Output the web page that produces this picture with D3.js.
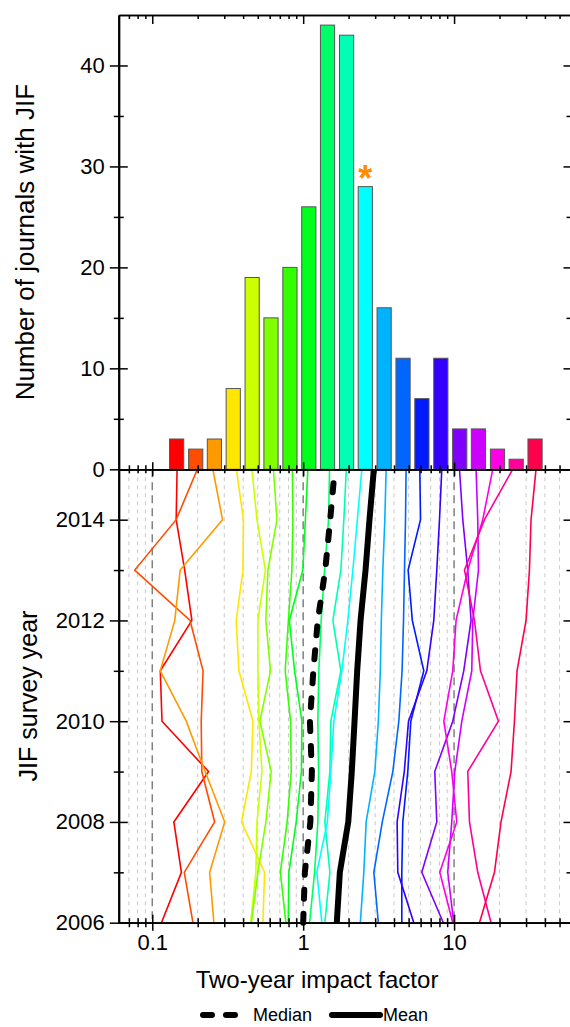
<!DOCTYPE html>
<html>
<head>
<meta charset="utf-8">
<script src="https://cdn.jsdelivr.net/npm/d3@7"></script>
<style>
body { margin: 0; background: #fff; }
svg { display: block; font-family: Arial, "Liberation Sans", sans-serif; }
</style>
</head>
<body>
<svg id="chart" width="570" height="1027"></svg>
<script>
// histogram: bin centres (JIF) and number of journals per bin
const binCenters = [0.145, 0.194, 0.258, 0.344, 0.459, 0.612, 0.817, 1.09, 1.45, 1.94,
                    2.58, 3.44, 4.59, 6.12, 8.17, 10.9, 14.5, 19.4, 25.8, 34.4];
const journalCounts = [3, 2, 3, 8, 19, 15, 20, 26, 44, 43, 28, 16, 11, 7, 11, 4, 4, 2, 1, 3];

// survey years and the JIF of one journal per bin over the years (2006 -> 2015)
const surveyYears = [2006, 2007, 2008, 2009, 2010, 2011, 2012, 2013, 2014, 2015];
const binTrends = [
    [0.115, 0.156, 0.139, 0.236, 0.116, 0.113, 0.183, 0.164, 0.144, 0.146],
    [0.186, 0.163, 0.259, 0.213, 0.211, 0.217, 0.178, 0.0765, 0.144, 0.199],
    [0.256, 0.240, 0.302, 0.224, 0.168, 0.113, 0.141, 0.153, 0.292, 0.252],
    [0.541, 0.555, 0.390, 0.453, 0.465, 0.375, 0.360, 0.399, 0.402, 0.361],
    [0.449, 0.486, 0.494, 0.533, 0.509, 0.501, 0.501, 0.562, 0.494, 0.457],
    [0.454, 0.501, 0.566, 0.614, 0.517, 0.607, 0.566, 0.584, 0.670, 0.635],
    [0.768, 0.706, 0.783, 0.833, 0.825, 0.760, 0.798, 0.842, 0.855, 0.848],
    [0.796, 0.804, 0.899, 0.973, 0.980, 0.877, 0.810, 0.995, 1.034, 1.074],
    [1.103, 1.190, 1.251, 1.265, 1.251, 1.270, 1.316, 1.386, 1.473, 1.496],
    [1.392, 1.503, 1.392, 1.503, 1.525, 1.777, 1.573, 1.777, 1.860, 1.932],
    [1.330, 1.232, 1.446, 1.525, 1.597, 1.804, 1.977, 2.134, 2.286, 2.447],
    [2.392, 2.523, 2.614, 2.985, 3.148, 3.246, 3.295, 3.372, 3.476, 3.546],
    [3.148, 2.940, 3.345, 3.927, 4.303, 4.524, 4.623, 4.693, 4.766, 4.809],
    [4.504, 4.504, 4.573, 4.935, 5.167, 6.300, 5.287, 4.959, 5.991, 5.927],
    [5.408, 4.237, 4.194, 4.678, 4.989, 6.596, 7.337, 7.681, 8.005, 8.290],
    [8.483, 6.110, 7.681, 7.447, 9.80, 11.59, 12.96, 12.32, 11.42, 10.86],
    [9.95, 9.08, 9.65, 10.11, 11.25, 13.10, 13.30, 14.51, 14.35, 13.99],
    [9.80, 8.04, 10.42, 9.65, 8.55, 9.80, 10.31, 12.32, 15.49, 18.04],
    [17.58, 14.35, 12.65, 12.32, 19.68, 14.96, 13.65, 11.72, 15.90, 24.47],
    [14.73, 18.52, 20.47, 23.85, 25.12, 26.14, 29.99, 31.58, 32.36, 34.91]
];
const medianJIF = [1.00, 1.026, 1.116, 1.142, 1.108, 1.168, 1.25, 1.40, 1.51, 1.62];
const meanJIF = [1.67, 1.75, 1.99, 2.10, 2.19, 2.28, 2.40, 2.59, 2.75, 2.94];

// ticks
const majorIF = [0.1, 1, 10];
const minorIF = [0.07, 0.08, 0.09, 0.2, 0.3, 0.4, 0.5, 0.6, 0.7, 0.8, 0.9,
                 2, 3, 4, 5, 6, 7, 8, 9, 20, 30, 40, 50];
const countTicks = [0, 10, 20, 30, 40];
const countMinor = [5, 15, 25, 35];
const yearTicks = [2006, 2008, 2010, 2012, 2014];
const yearMinor = [2007, 2009, 2011, 2013];

const plot = {left: 118.8, right: 571.5, top: 15, mid: 469.3, bottom: 922.7};
const barHalf = 0.047;   // half bar width in decades

const svg = d3.select('#chart');

const x = d3.scaleLog().domain([0.06, 60]).range([plot.left, plot.right]);
const yCount = d3.scaleLinear().domain([0, 45]).range([plot.mid, plot.top]);
const yYear = d3.scaleLinear().domain([2006, 2015]).range([plot.bottom, plot.mid]);

const binColor = i => d3.hsl(i * 18, 1, 0.5).formatHex();

//GRIDLINES (bottom panel only)
svg.append('g')
    .selectAll('line')
    .data(minorIF)
    .join('line')
    .attr('x1', d => x(d)).attr('x2', d => x(d))
    .attr('y1', yYear(2015)).attr('y2', yYear(2006))
    .attr('stroke', '#c8c8c8')
    .attr('stroke-width', 1)
    .attr('stroke-dasharray', '4,4');

svg.append('g')
    .selectAll('line')
    .data(majorIF)
    .join('line')
    .attr('x1', d => x(d)).attr('x2', d => x(d))
    .attr('y1', yYear(2015)).attr('y2', yYear(2006))
    .attr('stroke', '#808080')
    .attr('stroke-width', 1.5)
    .attr('stroke-dasharray', '8,5');

//BARS
svg.append('g')
    .selectAll('rect')
    .data(journalCounts)
    .join('rect')
    .attr('x', (d, i) => x(binCenters[i] * Math.pow(10, -barHalf)))
    .attr('width', (d, i) => x(binCenters[i] * Math.pow(10, barHalf)) - x(binCenters[i] * Math.pow(10, -barHalf)))
    .attr('y', d => yCount(d))
    .attr('height', d => yCount(0) - yCount(d))
    .attr('fill', (d, i) => binColor(i))
    .attr('stroke', '#555')
    .attr('stroke-width', 1);

// asterisk over the 2.5 bin
svg.append('text')
    .attr('x', x(binCenters[10]))
    .attr('y', yCount(journalCounts[10]) + 4)
    .attr('text-anchor', 'middle')
    .attr('font-size', 36)
    .attr('font-weight', 'bold')
    .attr('fill', '#ff8c00')
    .text('*');

//TREND LINES
const line = d3.line()
    .x(d => x(d[1]))
    .y(d => yYear(d[0]));

svg.append('g')
    .selectAll('path')
    .data(binTrends)
    .join('path')
    .attr('d', d => line(d.map((v, j) => [surveyYears[j], v])))
    .attr('fill', 'none')
    .attr('stroke', (d, i) => binColor(i))
    .attr('stroke-width', 1.6);

svg.append('path')
    .attr('d', line(meanJIF.map((v, j) => [surveyYears[j], v])))
    .attr('fill', 'none')
    .attr('stroke', 'black')
    .attr('stroke-width', 6);

svg.append('path')
    .attr('d', line(medianJIF.map((v, j) => [surveyYears[j], v])))
    .attr('fill', 'none')
    .attr('stroke', 'black')
    .attr('stroke-width', 6)
    .attr('stroke-linecap', 'round')
    .attr('stroke-dasharray', '9,15');

//AXES
function addAxis(axis, tx, ty, labels) {
    const g = svg.append('g')
        .attr('transform', `translate(${tx},${ty})`)
        .call(axis.tickSizeOuter(0));
    g.selectAll('path, line').attr('stroke', 'black').attr('stroke-width', 1.5);
    g.select('.domain').attr('stroke-width', 1.6);
    if (labels) {
        g.selectAll('text').attr('font-size', 22).attr('fill', 'black')
            .attr('font-family', 'Arial, "Liberation Sans", sans-serif');
    } else {
        g.selectAll('text').remove();
    }
    return g;
}

// left: counts (cross ticks)
addAxis(d3.axisLeft(yCount).tickValues(countTicks).tickSize(9).tickPadding(5), plot.left, 0, true);
addAxis(d3.axisRight(yCount).tickValues(countTicks).tickSize(9), plot.left, 0, false);
addAxis(d3.axisLeft(yCount).tickValues(countMinor).tickSize(5), plot.left, 0, false);
addAxis(d3.axisRight(yCount).tickValues(countMinor).tickSize(5), plot.left, 0, false);
// left: years (cross ticks)
addAxis(d3.axisLeft(yYear).tickValues(yearTicks).tickSize(9).tickPadding(5).tickFormat(d3.format('d')), plot.left, 0, true);
addAxis(d3.axisRight(yYear).tickValues(yearTicks).tickSize(9), plot.left, 0, false);
addAxis(d3.axisLeft(yYear).tickValues(yearMinor).tickSize(5), plot.left, 0, false);
addAxis(d3.axisRight(yYear).tickValues(yearMinor).tickSize(5), plot.left, 0, false);
// right: inward ticks
addAxis(d3.axisLeft(yCount).tickValues(countTicks).tickSize(8), plot.right, 0, false);
addAxis(d3.axisLeft(yCount).tickValues(countMinor).tickSize(5), plot.right, 0, false);
addAxis(d3.axisLeft(yYear).tickValues(yearTicks).tickSize(8), plot.right, 0, false);
addAxis(d3.axisLeft(yYear).tickValues(yearMinor).tickSize(5), plot.right, 0, false);

// top: inward ticks
addAxis(d3.axisBottom(x).tickValues(majorIF).tickSize(9), 0, plot.top, false);
addAxis(d3.axisBottom(x).tickValues(minorIF).tickSize(4), 0, plot.top, false);
// middle: cross ticks
addAxis(d3.axisBottom(x).tickValues(majorIF).tickSize(7), 0, plot.mid, false);
addAxis(d3.axisTop(x).tickValues(majorIF).tickSize(7), 0, plot.mid, false);
addAxis(d3.axisBottom(x).tickValues(minorIF).tickSize(4), 0, plot.mid, false);
addAxis(d3.axisTop(x).tickValues(minorIF).tickSize(4), 0, plot.mid, false);
// bottom: cross ticks + labels
addAxis(d3.axisBottom(x).tickValues(majorIF).tickSize(8).tickPadding(4).tickFormat(d => String(d)), 0, plot.bottom, true);
addAxis(d3.axisTop(x).tickValues(majorIF).tickSize(8), 0, plot.bottom, false);
addAxis(d3.axisBottom(x).tickValues(minorIF).tickSize(4.5), 0, plot.bottom, false);
addAxis(d3.axisTop(x).tickValues(minorIF).tickSize(4.5), 0, plot.bottom, false);

//TITLES
svg.append('text')
    .attr('transform', `translate(34,${(yCount(0) + yCount(45)) / 2}) rotate(-90)`)
    .attr('text-anchor', 'middle')
    .attr('font-size', 26)
    .text('Number of journals with JIF');

svg.append('text')
    .attr('transform', `translate(37,${(yYear(2006) + yYear(2015)) / 2}) rotate(-90)`)
    .attr('text-anchor', 'middle')
    .attr('font-size', 25)
    .text('JIF survey year');

svg.append('text')
    .attr('x', 317)
    .attr('y', 988)
    .attr('text-anchor', 'middle')
    .attr('font-size', 24)
    .text('Two-year impact factor');

//LEGEND
const legend = svg.append('g').attr('transform', 'translate(0,1015)');
legend.append('line')
    .attr('x1', 203).attr('x2', 236).attr('y1', 0).attr('y2', 0)
    .attr('stroke', 'black').attr('stroke-width', 6)
    .attr('stroke-linecap', 'round').attr('stroke-dasharray', '9,14');
legend.append('text')
    .attr('x', 253).attr('y', 6).attr('font-size', 18).text('Median');
legend.append('line')
    .attr('x1', 332).attr('x2', 380).attr('y1', 0).attr('y2', 0)
    .attr('stroke', 'black').attr('stroke-width', 6).attr('stroke-linecap', 'round');
legend.append('text')
    .attr('x', 383).attr('y', 6).attr('font-size', 18).text('Mean');
</script>
</body>
</html>
